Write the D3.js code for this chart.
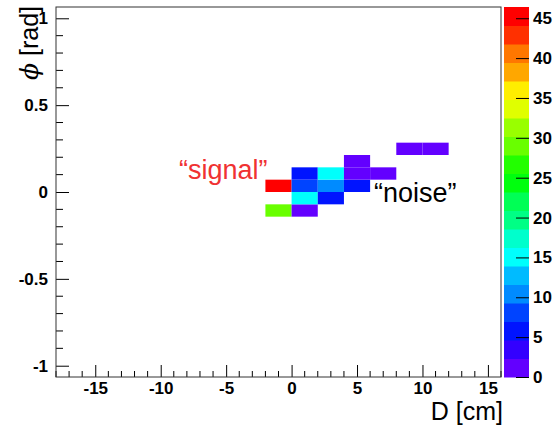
<!DOCTYPE html>
<html>
<head>
<meta charset="utf-8">
<script src="https://cdn.jsdelivr.net/npm/d3@7"></script>
<style>
  body { margin: 0; background: #fff; }
  text { font-family: "Liberation Sans", Arial, sans-serif; }
</style>
</head>
<body>
<div id="vis"></div>
<script>
// data: 2D histogram bins (D low edge in cm, phi bin index, counts)
const dLow   = [-2, -2,  0,  0,  0, 0,   2,    2,  2,   4,   4, 4,   6,  8, 10];
const phiBin = [ 0, -2, -2, -1,  0, 1,  -1,    0,  1,   0,   1, 2,   1,  3,  3];
const counts = [44.2, 29, 1.5, 15, 8, 6, 5.5, 10.5, 15, 5.5, 1.5, 2, 1.5, 1, 1];

const dRange   = [-18, 16];
const phiRange = [-1.065, 1.065];
const dWidth   = 2;
const phiWidth = 1.065 / 15;
const nContours = 20;

const xTicks = [-15, -10, -5, 0, 5, 10, 15];
const yTicks = [-1, -0.5, 0, 0.5, 1];
const zTicks = [0, 5, 10, 15, 20, 25, 30, 35, 40, 45];

const W = 554, H = 427;
const svg = d3.select("#vis").append("svg").attr("width", W).attr("height", H);

const frame = { left: 56, right: 501, top: 7, bottom: 377 };
const x = d3.scaleLinear().domain(dRange).range([frame.left, frame.right]);
const y = d3.scaleLinear().domain(phiRange).range([frame.bottom, frame.top]);

const zMax = d3.max(counts) * 1.05;
const z = d3.scaleLinear().domain([0, zMax]).range([frame.bottom, frame.top]);

// ROOT-like pretty palette (50 colours), sampled for 20 contours
function bandColor(j) {
  const idx = Math.floor((j + 0.99) * 50 / nContours);
  const hue = 280 - (idx + 1) * 5.6;
  return d3.hsl(hue, 1, 0.5).formatHex();
}
function colorOf(v) {
  const j = Math.min(nContours - 1, Math.floor(v / zMax * nContours));
  return bandColor(j);
}

// cells
const cells = counts.map((c, i) => ({ d: dLow[i], p: phiBin[i] * phiWidth, c: c }));
svg.append("g").selectAll("rect")
  .data(cells)
  .enter()
  .append("rect")
  .attr("x", d => x(d.d))
  .attr("y", d => y(d.p + phiWidth))
  .attr("width", d => x(d.d + dWidth) - x(d.d))
  .attr("height", d => y(d.p) - y(d.p + phiWidth))
  .attr("fill", d => colorOf(d.c));

const fmt = v => String(v).replace("\u2212", "-");
const labelSize = 17;

// x axis: major + minor ticks pointing inward
const xAxis = svg.append("g").attr("transform", `translate(0,${frame.bottom})`)
  .call(d3.axisBottom(x).tickValues(xTicks).tickSize(-12).tickPadding(5).tickFormat(fmt));
svg.append("g").selectAll("line")
  .data(d3.range(-18, 17, 1).filter(v => v % 5 !== 0))
  .enter().append("line")
  .attr("x1", d => x(d)).attr("x2", d => x(d))
  .attr("y1", frame.bottom).attr("y2", frame.bottom - 6)
  .attr("stroke", "#000");

// y axis
const yAxis = svg.append("g").attr("transform", `translate(${frame.left},0)`)
  .call(d3.axisLeft(y).tickValues(yTicks).tickSize(-13).tickPadding(8).tickFormat(fmt));
svg.append("g").selectAll("line")
  .data(d3.range(-10, 11, 1).filter(v => v % 5 !== 0).map(v => v / 10))
  .enter().append("line")
  .attr("x1", frame.left).attr("x2", frame.left + 7)
  .attr("y1", d => y(d)).attr("y2", d => y(d))
  .attr("stroke", "#000");

[xAxis, yAxis].forEach(g => {
  g.select(".domain").remove();
  g.selectAll("line").attr("stroke", "#000");
  g.selectAll("text").attr("font-size", labelSize).attr("font-weight", "bold")
    .attr("font-family", "Liberation Sans, Arial, sans-serif").attr("fill", "#000");
});

// frame
svg.append("rect")
  .attr("x", frame.left).attr("y", frame.top)
  .attr("width", frame.right - frame.left).attr("height", frame.bottom - frame.top)
  .attr("fill", "none").attr("stroke", "#333").attr("stroke-width", 1);

// colour bar
const bar = { left: 504, right: 529 };
svg.append("g").selectAll("rect")
  .data(d3.range(nContours))
  .enter().append("rect")
  .attr("x", bar.left)
  .attr("y", j => z((j + 1) * zMax / nContours))
  .attr("width", bar.right - bar.left)
  .attr("height", j => z(j * zMax / nContours) - z((j + 1) * zMax / nContours) + 0.5)
  .attr("fill", j => bandColor(j));

const zAxis = svg.append("g").attr("transform", `translate(${bar.right},0)`)
  .call(d3.axisRight(z).tickValues(zTicks).tickSize(-13).tickPadding(4));
zAxis.select(".domain").remove();
zAxis.selectAll("line").attr("stroke", "#000");
zAxis.selectAll("text").attr("font-size", labelSize).attr("font-weight", "bold")
  .attr("font-family", "Liberation Sans, Arial, sans-serif").attr("fill", "#000");

// axis titles
svg.append("text")
  .attr("x", 503).attr("y", 420)
  .attr("text-anchor", "end")
  .attr("font-size", 25)
  .text("D [cm]");

const yTitle = svg.append("text")
  .attr("transform", "translate(38,6) rotate(-90)")
  .attr("text-anchor", "end")
  .attr("font-size", 25);
yTitle.append("tspan").attr("font-family", "DejaVu Serif, serif").attr("font-style", "italic").text("\u03d5");
yTitle.append("tspan").text(" [rad]");

// annotations
svg.append("text")
  .attr("x", 179).attr("y", 179)
  .attr("font-size", 27)
  .attr("fill", "#f03232")
  .text("\u201csignal\u201d");

svg.append("text")
  .attr("x", 374).attr("y", 202)
  .attr("font-size", 27)
  .attr("fill", "#000")
  .text("\u201cnoise\u201d");
</script>
</body>
</html>
